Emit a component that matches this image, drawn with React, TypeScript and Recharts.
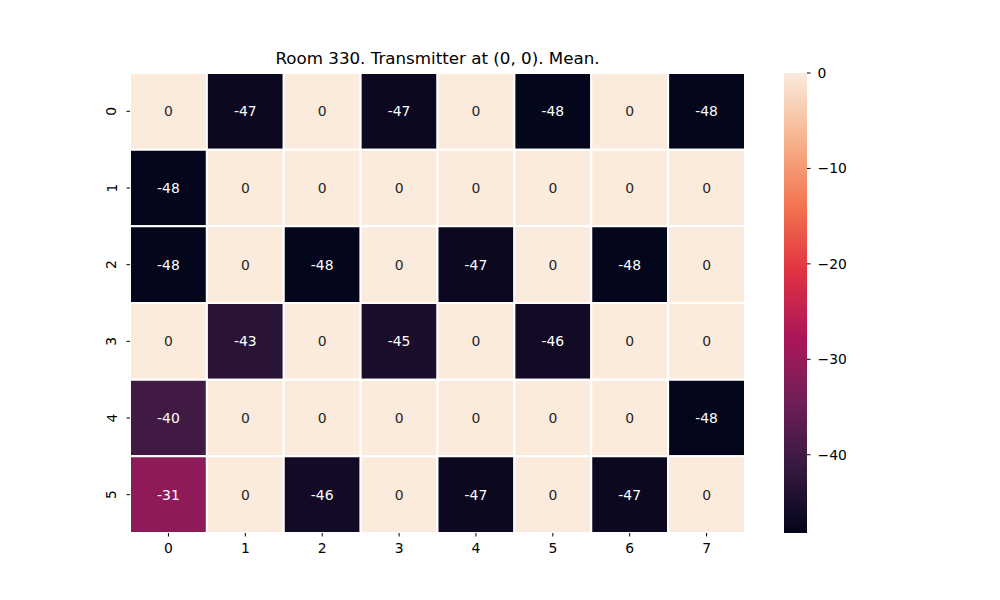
import React from 'react';
import { ScatterChart, Scatter, XAxis, YAxis, ReferenceArea } from 'recharts';

const title = 'Room 330. Transmitter at (0, 0). Mean.';
const colLabels = ['0', '1', '2', '3', '4', '5', '6', '7'];
const rowLabels = ['0', '1', '2', '3', '4', '5'];
const row0 = [0, -47, 0, -47, 0, -48, 0, -48];
const row1 = [-48, 0, 0, 0, 0, 0, 0, 0];
const row2 = [-48, 0, -48, 0, -47, 0, -48, 0];
const row3 = [0, -43, 0, -45, 0, -46, 0, 0];
const row4 = [-40, 0, 0, 0, 0, 0, 0, -48];
const row5 = [-31, 0, -46, 0, -47, 0, -47, 0];
const rows = [row0, row1, row2, row3, row4, row5];
const vmin = -48.2;
const vmax = 0;
const cbarTicks = [-40, -30, -20, -10, 0];

// seaborn "rocket" colormap anchor points
const rocketT = [0, 1 / 7, 2 / 7, 3 / 7, 4 / 7, 5 / 7, 6 / 7, 1];
const rocketC: number[][] = [
  [3, 5, 26],
  [53, 25, 62],
  [112, 31, 87],
  [173, 23, 89],
  [225, 51, 66],
  [243, 118, 81],
  [246, 180, 143],
  [250, 235, 221],
];

function rocket(t: number): number[] {
  const c = Math.max(0, Math.min(1, t));
  for (let i = 0; i < rocketT.length - 1; i++) {
    if (c <= rocketT[i + 1]) {
      const f = (c - rocketT[i]) / (rocketT[i + 1] - rocketT[i]);
      return rocketC[i].map((a, k) => Math.round(a + (rocketC[i + 1][k] - a) * f));
    }
  }
  return rocketC[rocketC.length - 1];
}
const toHex = (c: number[]) => '#' + c.map((v) => v.toString(16).padStart(2, '0')).join('');
const colorOf = (v: number) => rocket((v - vmin) / (vmax - vmin));
const textColorOf = (v: number) => {
  const [r, g, b] = colorOf(v).map((x) => {
    const s = x / 255;
    return s <= 0.03928 ? s / 12.92 : Math.pow((s + 0.055) / 1.055, 2.4);
  });
  const lum = 0.2126 * r + 0.7152 * g + 0.0722 * b;
  return lum > 0.408 ? '#262626' : '#ffffff';
};

const FONT = 'DejaVu Sans';
const colTicks = colLabels.map((_, i) => i + 0.5);
const rowTicks = rowLabels.map((_, i) => i + 0.5);

const cellCenters = rows.flatMap((row, r) => row.map((v, c) => ({ x: c + 0.5, y: r + 0.5, v })));
const cbarData = [
  { x: 0, y: vmin },
  { x: 1, y: vmax },
];

const NoShape = () => <g />;

const YTick = (props: any) => {
  const { x, y, payload } = props;
  return (
    <text
      x={x}
      y={y}
      transform={`rotate(-90, ${x}, ${y})`}
      textAnchor="middle"
      dy={-8}
      fontFamily={FONT}
      fontSize={13.9}
      fill="#000"
    >
      {rowLabels[Math.floor(payload.value)]}
    </text>
  );
};

export default function App() {
  return (
    <div style={{ position: 'absolute', left: 0, top: 0, width: 1000, height: 600, background: '#fff' }}>
      <div style={{ position: 'absolute', left: 0, top: 0 }}>
        <ScatterChart width={1000} height={600} margin={{ top: 73, right: 255, bottom: 37, left: 100 }}>
          <XAxis
            type="number"
            dataKey="x"
            domain={[0, 8]}
            ticks={colTicks}
            interval={0}
            axisLine={false}
            tickLine={{ stroke: '#000' }}
            tickSize={3.5}
            height={30}
            tick={{ fontFamily: FONT, fontSize: 13.9, fill: '#000', dy: 5 }}
            tickFormatter={(v: number) => colLabels[Math.floor(v)]}
          />
          <YAxis
            type="number"
            dataKey="y"
            domain={[0, 6]}
            reversed
            ticks={rowTicks}
            interval={0}
            axisLine={false}
            tickLine={{ stroke: '#000' }}
            tickSize={3.5}
            width={30}
            tick={<YTick />}
          />
          {rows.map((row, r) =>
            row.map((v, c) => (
              <ReferenceArea
                key={`${r}-${c}`}
                x1={c}
                x2={c + 1}
                y1={r}
                y2={r + 1}
                fill={toHex(colorOf(v))}
                fillOpacity={1}
                stroke="#ffffff"
                strokeWidth={2}
                ifOverflow="visible"
                label={{
                  value: String(v),
                  position: 'center',
                  fill: textColorOf(v),
                  fontFamily: FONT,
                  fontSize: 13.9,
                }}
              />
            ))
          )}
          <Scatter data={cellCenters} isAnimationActive={false} shape={<NoShape />} />
          <text x={437.5} y={64} textAnchor="middle" fontFamily={FONT} fontSize={16.7} fill="#000">
            {title}
          </text>
        </ScatterChart>
      </div>
      <div style={{ position: 'absolute', left: 0, top: 0 }}>
        <ScatterChart width={1000} height={600} margin={{ top: 73, right: 133, bottom: 67, left: 784 }}>
          <defs>
            <linearGradient id="rocketGrad" x1="0" y1="0" x2="0" y2="1">
              {rocketT
                .map((t, i) => ({ t, c: rocketC[i] }))
                .reverse()
                .map((s, i) => (
                  <stop key={i} offset={`${(1 - s.t) * 100}%`} stopColor={toHex(s.c)} />
                ))}
            </linearGradient>
          </defs>
          <XAxis type="number" dataKey="x" domain={[0, 1]} hide />
          <YAxis
            type="number"
            dataKey="y"
            orientation="right"
            domain={[vmin, vmax]}
            ticks={cbarTicks}
            interval={0}
            axisLine={false}
            tickLine={{ stroke: '#000' }}
            tickSize={3.5}
            width={60}
            tick={{ fontFamily: FONT, fontSize: 13.9, fill: '#000', textAnchor: 'start', dx: 5 }}
            tickFormatter={(v: number) => (v < 0 ? '\u2212' + Math.abs(v) : String(v))}
          />
          <ReferenceArea x1={0} x2={1} y1={vmin} y2={vmax} fill="url(#rocketGrad)" fillOpacity={1} stroke="none" ifOverflow="visible" />
          <Scatter data={cbarData} isAnimationActive={false} shape={<NoShape />} />
        </ScatterChart>
      </div>
    </div>
  );
}
